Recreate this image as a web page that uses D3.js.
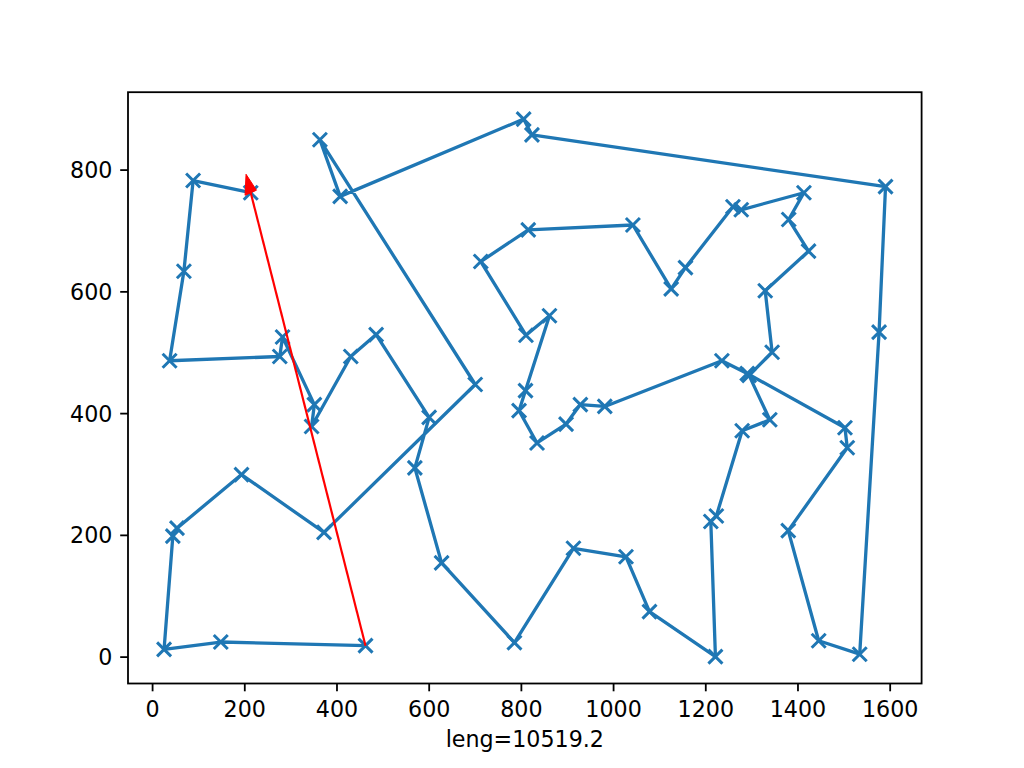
<!DOCTYPE html>
<html>
<head>
<meta charset="utf-8">
<script src="https://cdn.jsdelivr.net/npm/d3@7"></script>
<style>
  body { margin: 0; background: #fff; }
  svg text { font-family: "DejaVu Sans", sans-serif; fill: #000; }
</style>
</head>
<body>
<div id="chart"></div>
<script>
// tour order, city coordinates
var tourX = [214, 89, 69, 38, 277, 283, 352, 346, 431, 486, 601, 570, 628, 786, 914, 1028,
  1079, 1222, 1212, 1224, 1280, 1340, 1295, 1345, 1330, 1424, 1381, 1414, 1278, 1260, 1157,
  1126, 1043, 816, 713, 811, 862, 810, 796, 835, 898, 929, 982, 1236, 1291, 1503, 1508,
  1380, 1446, 1535, 1577, 1591, 824, 806, 408, 364, 701, 373, 194, 54, 45, 26, 149, 463];
var tourY = [762, 782, 633, 486, 493, 525, 414, 378, 493, 529, 393, 310, 154, 23, 178, 164,
  74, 0, 222, 231, 371, 389, 462, 500, 601, 666, 718, 762, 734, 739, 639,
  604, 709, 701, 649, 528, 560, 437, 404, 351, 382, 414, 411, 486, 465, 376, 343,
  207, 26, 4, 533, 772, 857, 883, 756, 849, 447, 204, 299, 211, 198, 12, 24, 18];
var xTicks = [0, 200, 400, 600, 800, 1000, 1200, 1400, 1600];
var yTicks = [0, 200, 400, 600, 800];
var xLabel = 'leng=10519.2';

var width = 1024, height = 768;
var margin = { left: 128, right: 102.4, top: 92.2, bottom: 84.5 };
var blue = '#1f77b4';

var svg = d3.select('#chart').append('svg')
  .attr('width', width)
  .attr('height', height);

var pts = tourX.map(function(x, i) { return [x, tourY[i]]; });

// matplotlib style 5% padding
var xExt = d3.extent(tourX), yExt = d3.extent(tourY);
var xPad = (xExt[1] - xExt[0]) * 0.05, yPad = (yExt[1] - yExt[0]) * 0.05;

var x = d3.scaleLinear()
  .domain([xExt[0] - xPad, xExt[1] + xPad])
  .range([margin.left, width - margin.right]);
var y = d3.scaleLinear()
  .domain([yExt[0] - yPad, yExt[1] + yPad])
  .range([height - margin.bottom, margin.top]);

var plot = svg.append('g');

// route
plot.append('path')
  .datum(pts)
  .attr('fill', 'none')
  .attr('stroke', blue)
  .attr('stroke-width', 3.3)
  .attr('stroke-linejoin', 'round')
  .attr('d', d3.line().x(function(d) { return x(d[0]); }).y(function(d) { return y(d[1]); }));

// x markers
var m = 7;
plot.selectAll('path.mark')
  .data(pts).enter()
  .append('path')
  .attr('class', 'mark')
  .attr('stroke', blue)
  .attr('stroke-width', 3)
  .attr('d', function(d) {
    var cx = x(d[0]), cy = y(d[1]);
    return 'M' + (cx - m) + ',' + (cy - m) + 'L' + (cx + m) + ',' + (cy + m) +
      'M' + (cx - m) + ',' + (cy + m) + 'L' + (cx + m) + ',' + (cy - m);
  });

// red arrow from last city back to the first (head drawn in data units)
var last = pts[pts.length - 1], first = pts[0];
var dx = first[0] - last[0], dy = first[1] - last[1];
var len = Math.sqrt(dx * dx + dy * dy);
var ux = dx / len, uy = dy / len;
var headLen = 32, headW = 26;
var tip = [first[0] + ux * headLen, first[1] + uy * headLen];
var c1 = [first[0] + uy * headW / 2, first[1] - ux * headW / 2];
var c2 = [first[0] - uy * headW / 2, first[1] + ux * headW / 2];

plot.append('line')
  .attr('x1', x(last[0])).attr('y1', y(last[1]))
  .attr('x2', x(first[0])).attr('y2', y(first[1]))
  .attr('stroke', 'red')
  .attr('stroke-width', 2.2);
plot.append('path')
  .attr('fill', 'red')
  .attr('stroke', 'red')
  .attr('stroke-width', 1)
  .attr('d', 'M' + x(c1[0]) + ',' + y(c1[1]) + 'L' + x(tip[0]) + ',' + y(tip[1]) +
    'L' + x(c2[0]) + ',' + y(c2[1]) + 'Z');

// axes
var xAxis = svg.append('g')
  .attr('transform', 'translate(0,' + (height - margin.bottom) + ')')
  .call(d3.axisBottom(x).tickValues(xTicks).tickSize(7.8).tickPadding(7.8).tickFormat(d3.format('d')));
var yAxis = svg.append('g')
  .attr('transform', 'translate(' + margin.left + ',0)')
  .call(d3.axisLeft(y).tickValues(yTicks).tickSize(7.8).tickPadding(7.8).tickFormat(d3.format('d')));

[xAxis, yAxis].forEach(function(a) {
  a.select('.domain').remove();
  a.selectAll('.tick line').attr('stroke', '#000').attr('stroke-width', 1.8);
  a.selectAll('.tick text')
    .attr('font-size', '22.2px')
    .attr('font-family', '"DejaVu Sans", sans-serif')
    .attr('fill', '#000');
});
xAxis.selectAll('.tick text').attr('dy', null).attr('y', 33.2);
yAxis.selectAll('.tick text').attr('dy', '0.36em');

// frame
svg.append('rect')
  .attr('x', margin.left)
  .attr('y', margin.top)
  .attr('width', width - margin.left - margin.right)
  .attr('height', height - margin.top - margin.bottom)
  .attr('fill', 'none')
  .attr('stroke', '#000')
  .attr('stroke-width', 1.8);

svg.append('text')
  .attr('x', (margin.left + width - margin.right) / 2)
  .attr('y', 747)
  .attr('text-anchor', 'middle')
  .attr('font-size', '22.2px')
  .text(xLabel);
</script>
</body>
</html>
